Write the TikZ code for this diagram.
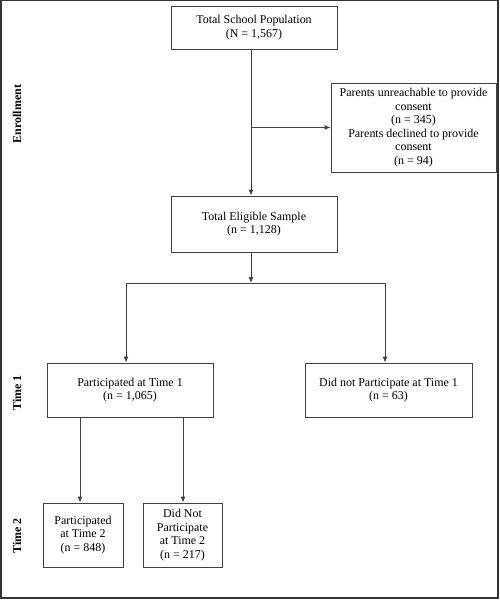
\documentclass[tikz,border=0pt]{standalone}
\usepackage{fontspec}
\setmainfont{Liberation Serif}
\usetikzlibrary{arrows.meta}
\begin{document}
\begin{tikzpicture}[x=1bp,y=-1bp,
  box/.style={draw=black!75,line width=0.9bp,align=center,inner sep=0pt,font=\fontsize{12}{13.6}\selectfont},
  conn/.style={draw=black!75,line width=0.9bp},
  arr/.style={conn,-{Latex[length=6bp,width=5bp]}},
  phase/.style={rotate=90,font=\fontsize{12}{14}\bfseries\selectfont},
  frame/.style={draw=black!80,line width=1.5bp}]
\useasboundingbox (0,0) rectangle (500,600);
\draw[frame] (0.75,0.75) rectangle (498,598);
% nodes
\node[box,minimum width=166bp,minimum height=43bp] (top) at (254,27.5) {Total School Population\\(N = 1,567)};
\node[box,minimum width=165bp,minimum height=89bp] (excl) at (413.5,127.5) {Parents unreachable to provide\\consent\\(n = 345)\\Parents declined to provide\\consent\\(n = 94)};
\node[box,minimum width=166bp,minimum height=56bp] (elig) at (254,224) {Total Eligible Sample\\(n = 1,128)};
\node[box,minimum width=166bp,minimum height=54bp] (p1) at (130,390) {Participated at Time 1\\(n = 1,065)};
\node[box,minimum width=167bp,minimum height=54bp] (np1) at (388.5,390) {Did not Participate at Time 1\\(n = 63)};
\node[box,minimum width=80bp,minimum height=64bp] (p2) at (83,535) {Participated\\at Time 2\\(n = 848)};
\node[box,minimum width=79bp,minimum height=64bp] (np2) at (182.5,535) {Did Not\\Participate\\at Time 2\\(n = 217)};
% phase labels
\node[phase] (enr) at (17,114) {Enrollment};
\node[phase] (t1) at (17,393) {Time 1};
\node[phase] (t2) at (17,536) {Time 2};
% helper coordinates
\coordinate (trunk) at (251,0);
\coordinate (split) at (251,283);
\coordinate (lx) at (126,0);
\coordinate (rx) at (385,0);
\coordinate (ax) at (80,0);
\coordinate (bx) at (183,0);
% connectors
\draw[arr] (trunk |- top.south) -- (trunk |- elig.north);
\draw[arr] (trunk |- excl.west) -- (excl.west);
\draw[arr] (trunk |- elig.south) -- (split);
\draw[conn] (lx |- split) -- (rx |- split);
\draw[arr] (lx |- split) -- (lx |- p1.north);
\draw[arr] (rx |- split) -- (rx |- np1.north);
\draw[arr] (ax |- p1.south) -- (ax |- p2.north);
\draw[arr] (bx |- p1.south) -- (bx |- np2.north);
\end{tikzpicture}
\end{document}
